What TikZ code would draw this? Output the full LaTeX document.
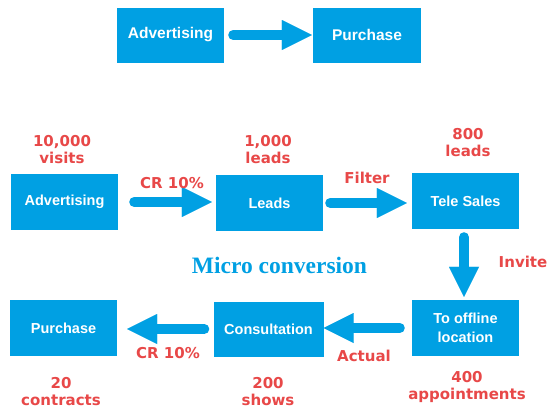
\documentclass[tikz,border=0pt]{standalone}
\usepackage{fontspec}
\setmainfont{Liberation Sans}
\newfontfamily\labelfont{DejaVu Sans}
\newfontfamily\seriffont{Liberation Serif}
\usetikzlibrary{arrows.meta}
\definecolor{boxblue}{RGB}{0,160,227}
\definecolor{labred}{RGB}{232,72,72}
\begin{document}
\begin{tikzpicture}[x=1pt,y=-1pt,
  box/.style={fill=boxblue, text=white, font=\bfseries\fontsize{14.5}{19}\selectfont,
    minimum width=107pt, minimum height=56pt, inner sep=0pt, align=center},
  bigbox/.style={box, font=\bfseries\fontsize{15.5}{19}\selectfont, minimum height=55pt},
  flow/.style={draw=boxblue, line width=10pt, line cap=round,
    -{Triangle[length=30pt,width=30pt,line width=0.01pt]}},
  lab/.style={text=labred, font=\labelfont\bfseries\fontsize{15}{17}\selectfont,
    align=center, inner sep=0pt}]
\fill[white] (0,0) rectangle (559,418);
% top row
\node[bigbox] (tadv) at (170.5,35) {Advertising};
\node[bigbox, minimum width=108pt] (tpur) at (367,35) {Purchase};
\draw[flow, shorten <=9pt, shorten >=1pt] (tadv.east) -- (tpur.west);
% middle row
\node[box] (adv) at (64.5,202) {Advertising};
\node[box] (leads) at (269.5,203) {Leads};
\node[box] (tele) at (465.5,201) {Tele Sales};
\draw[flow, shorten <=16pt, shorten >=4pt] (adv.east) -- (adv.east -| leads.west);
\draw[flow, shorten <=7pt, shorten >=5pt] (leads.east) -- (leads.east -| tele.west);
% bottom row
\node[box] (offl) at (465.5,328) {To offline\\location};
\node[box, minimum width=110pt, minimum height=55pt] (cons) at (268.5,329) {Consultation};
\node[box] (pur) at (63.5,328) {Purchase};
\draw[flow, shorten <=8pt, shorten >=3pt] ([xshift=-1.5pt]tele.south) -- ([xshift=-1.5pt]offl.north);
\draw[flow, shorten <=12pt, shorten >=0pt] (offl.west) -- (offl.west -| cons.east);
\draw[flow, shorten <=9pt, shorten >=10pt] (cons.west) -- (cons.west -| pur.east);
% labels
\node[lab] (l1) at (62,150) {10,000\\visits};
\node[lab] (l2) at (268,150) {1,000\\leads};
\node[lab] (l3) at (468,143) {800\\leads};
\node[lab] (l4) at (172,183) {CR 10\%};
\node[lab] (l5) at (367,178) {Filter};
\node[lab] (l6) at (523,262) {Invite};
\node[lab] (l7) at (364,356) {Actual};
\node[lab] (l8) at (168,353) {CR 10\%};
\node[lab] (l9) at (61,392) {20\\contracts};
\node[lab] (l10) at (268,392) {200\\shows};
\node[lab] (l11) at (467,387) {400\\appointments};
\node[text=boxblue, inner sep=0pt, font=\seriffont\bfseries\fontsize{23.5}{28}\selectfont] (micro) at (279.5,265.5) {Micro conversion};
\end{tikzpicture}
\end{document}
